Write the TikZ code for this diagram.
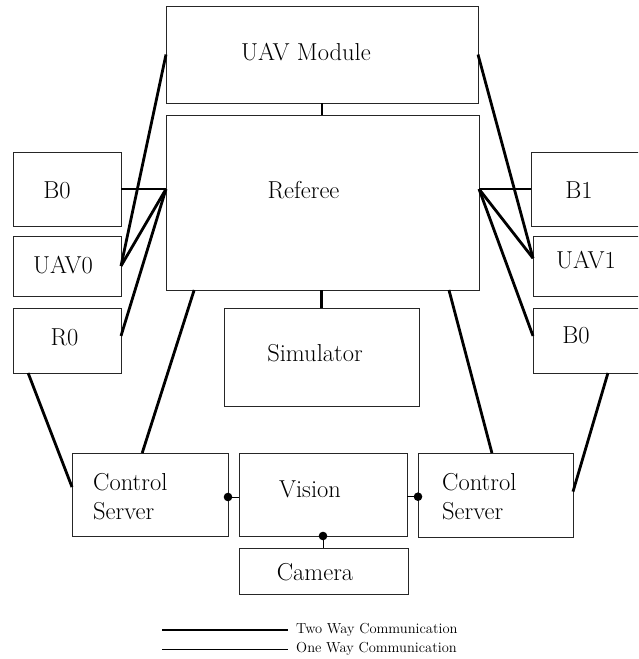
\documentclass[tikz,border=0pt]{standalone}
\usetikzlibrary{calc}
\begin{document}
\begin{tikzpicture}[x=1pt,y=-1pt,
  box/.style={draw=black!85, line width=0.9pt, inner sep=0pt, outer sep=0pt},
  txt/.style={inner sep=0pt, font=\fontsize{24.5}{29}\selectfont, align=left},
  legtxt/.style={inner xsep=8pt, inner ysep=0pt, font=\fontsize{14.5}{16}\selectfont},
  twoway/.style={line width=2.8pt},
  oneway/.style={line width=0.8pt}]
\useasboundingbox (0,0) rectangle (638,659);
\clip (0,0) rectangle (638,659);

% central column
\node[box, minimum width=312pt, minimum height=97pt]  (uav) at (322,54.5) {};
\node[box, minimum width=313pt, minimum height=175pt] (ref) at (322.5,202.5) {};
\node[box, minimum width=195pt, minimum height=98pt]  (sim) at (321.5,357) {};

% left-hand robots
\node[box, minimum width=108pt, minimum height=74pt] (b0l)  at (67,189) {};
\node[box, minimum width=108pt, minimum height=60pt] (uav0) at (67,266) {};
\node[box, minimum width=108pt, minimum height=65pt] (r0)   at (67,340.5) {};

% right-hand robots (run past the page edge)
\node[box, minimum width=129pt, minimum height=74pt] (b1)   at (595.5,189) {};
\node[box, minimum width=127pt, minimum height=60pt] (uav1) at (596.5,266) {};
\node[box, minimum width=127pt, minimum height=65pt] (b0r)  at (596.5,340.5) {};

% bottom row
\node[box, minimum width=156pt, minimum height=83pt] (csl) at (150,494.5) {};
\node[box, minimum width=168pt, minimum height=83pt] (vis) at (323,494.5) {};
\node[box, minimum width=155pt, minimum height=84pt] (csr) at (495.5,495) {};
\node[box, minimum width=169pt, minimum height=46pt] (cam) at (323.5,571) {};

% labels
\node[txt] (uavt)  at ([shift={(-16,-2.5)}]uav.center) {UAV Module};
\node[txt] (reft)  at ([shift={(-19,-12.5)}]ref.center) {Referee};
\node[txt] (simt)  at ([shift={(-6.5,-4)}]sim.center) {Simulator};
\node[txt] (b0lt)  at ([shift={(-10,1)}]b0l.center) {B0};
\node[txt] (uav0t) at ([shift={(-4,-1)}]uav0.center) {UAV0};
\node[txt] (r0t)   at ([shift={(-2.5,-3.5)}]r0.center) {R0};
\node[txt] (b1t)   at ([shift={(48,1)}]b1.west) {B1};
\node[txt] (uav1t) at ([shift={(53,-6)}]uav1.west) {UAV1};
\node[txt] (b0rt)  at ([shift={(43,-5.5)}]b0r.west) {B0};
\node[txt, anchor=west] (cslt) at ([shift={(21,2)}]csl.west) {Control\\Server};
\node[txt, anchor=west] (csrt) at ([shift={(24,2)}]csr.west) {Control\\Server};
\node[txt] (vist)  at ([shift={(-13,-5.5)}]vis.center) {Vision};
\node[txt] (camt)  at ([shift={(-8.5,1)}]cam.center) {Camera};

% attachment points on the referee
\coordinate (refL) at (ref.west |- b0l.east);
\coordinate (refR) at (ref.east |- b1.west);

% two-way links
\draw[twoway] (uav.south) -- (uav.south |- ref.north);
\draw[twoway] (sim.north |- ref.south) -- (sim.north);
\draw[twoway] (b0l.east) -- (refL);
\draw[twoway] (refL) -- (uav0.east);
\draw[twoway] (refL) -- ($(r0.north east)!0.43!(r0.south east)$);
\draw[twoway] (uav.west) -- (uav0.east);
\draw[twoway] (refR) -- (b1.west);
\draw[twoway] (refR) -- ($(uav1.north west)!0.37!(uav1.south west)$);
\draw[twoway] (uav.east) -- ($(uav1.north west)!0.37!(uav1.south west)$);
\draw[twoway] (refR) -- ($(b0r.north west)!0.43!(b0r.south west)$);
\draw[twoway] ($(ref.south west)!0.09!(ref.south east)$) -- ($(csl.north west)!0.45!(csl.north east)$);
\draw[twoway] ($(r0.south west)!0.14!(r0.south east)$) -- ($(csl.north west)!0.41!(csl.south west)$);
\draw[twoway] ($(ref.south west)!0.904!(ref.south east)$) -- ($(csr.north west)!0.477!(csr.north east)$);
\draw[twoway] ($(b0r.south west)!0.59!(b0r.south east)$) -- ($(csr.north east)!0.46!(csr.south east)$);

% one-way links from the vision system
\coordinate (dl) at ($(csl.north east)!0.53!(csl.south east)$);
\coordinate (dr) at ($(csr.north west)!0.52!(csr.south west)$);
\draw[oneway] (dl) -- (vis.west |- dl);
\draw[oneway] (dr) -- (vis.east |- dr);
\draw[oneway] (vis.south) -- (vis.south |- cam.north);
\fill (dl) circle (4.3pt);
\fill (dr) circle (4.3pt);
\fill (vis.south) circle (4.3pt);

% legend
\coordinate (tw0) at (162,630);
\coordinate (ow0) at (162,649);
\node[legtxt, anchor=west] (tw) at (288,630) {Two Way Communication};
\node[legtxt, anchor=west] (ow) at (288,649) {One Way Communication};
\draw[twoway] (tw0) -- (tw.west);
\draw[oneway] (ow0) -- (ow.west);
\end{tikzpicture}
\end{document}
